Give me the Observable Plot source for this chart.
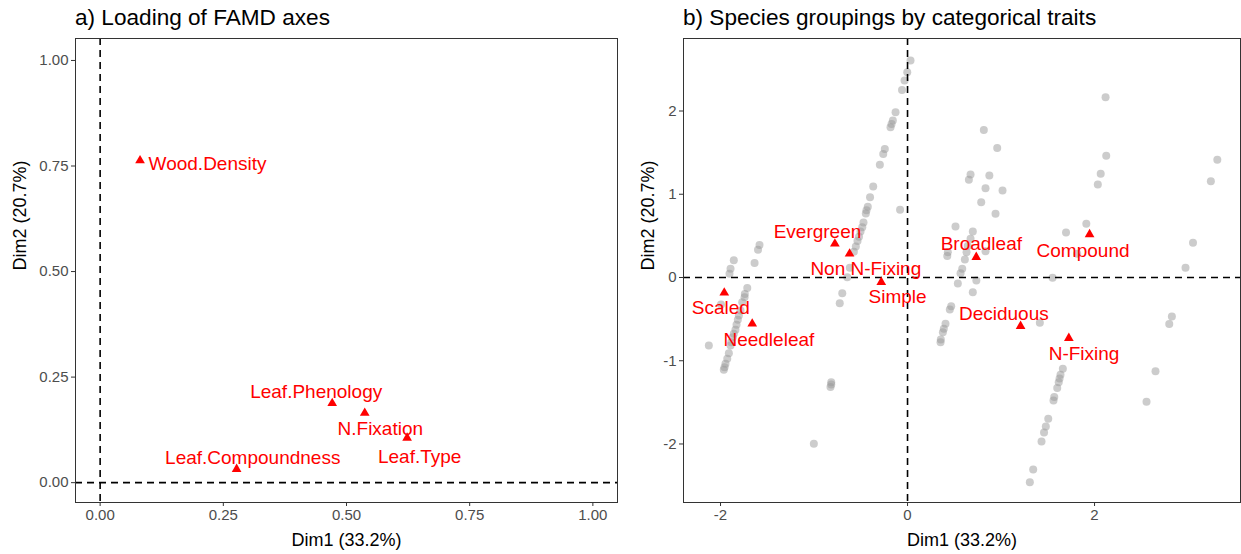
<!DOCTYPE html>
<html>
<head>
<meta charset="utf-8">
<script src="https://cdn.jsdelivr.net/npm/d3@7"></script>
<script src="https://cdn.jsdelivr.net/npm/@observablehq/plot@0.6"></script>
<style>
  html, body { margin: 0; padding: 0; background: #fff; }
  body { width: 1241px; height: 554px; position: relative; overflow: hidden;
         font-family: "Liberation Sans", Arial, Helvetica, sans-serif; }
  .title { position: absolute; top: 4px; font-size: 22.6px; line-height: 28px; color: #000; white-space: nowrap; }
  .panel { position: absolute; top: 30px; }
</style>
</head>
<body>
<div class="title" style="left:75px">a) Loading of FAMD axes</div>
<div class="title" style="left:683px">b) Species groupings by categorical traits</div>
<div class="panel" id="pa" style="left:0px"></div>
<div class="panel" id="pb" style="left:625px"></div>
<script>
// ---------- Panel a: loadings of FAMD axes ----------
const varNames = ["Wood.Density", "Leaf.Phenology", "N.Fixation", "Leaf.Type", "Leaf.Compoundness"];
const varDim1  = [0.081, 0.471, 0.537, 0.623, 0.277];
const varDim2  = [0.763, 0.188, 0.165, 0.106, 0.032];
// repelled label positions (data units)
const varLabelX = [0.218, 0.4385, 0.5686, 0.6485, 0.3097];
const varLabelY = [0.755, 0.214, 0.127, 0.0616, 0.0592];
const loadTicks = [0, 0.25, 0.5, 0.75, 1];

// ---------- Panel b: categories ----------
const catNames = ["Evergreen", "Non N-Fixing", "Simple", "Scaled", "Needleleaf", "Broadleaf", "Compound", "Deciduous", "N-Fixing"];
const catDim1  = [-0.777, -0.620, -0.281, -1.960, -1.661, 0.735, 1.947, 1.209, 1.725];
const catDim2  = [0.405, 0.285, -0.056, -0.184, -0.556, 0.244, 0.517, -0.585, -0.729];
const catLabelX = [-0.963, -0.446, -0.107, -1.997, -1.483, 0.789, 1.877, 1.030, 1.888];
const catLabelY = [0.543, 0.104, -0.236, -0.369, -0.745, 0.404, 0.315, -0.436, -0.917];
const indTicksX = [-2, 0, 2];
const indTicksY = [-2, -1, 0, 1, 2];

const xTitle = "Dim1 (33.2%)";
const yTitle = "Dim2 (20.7%)";

// ---------- Panel b: species (individuals) ----------
const spDim1 = [
  0.032, -0.003, -0.032, -0.059, -0.128, -0.157, -0.171, -0.182, -0.243, -0.260, -0.296,
  -0.367, -0.401, -0.425, -0.439, -0.446, -0.080, -0.471, -0.484, -0.503, -0.519, -0.535,
  -0.553, -0.574, -0.617, -0.645, -0.698, -0.725, -0.816, -0.816, -0.824, -1.002,
  -1.583, -1.599, -1.636, -1.858, -1.893, -1.904, -1.714, -1.740, -1.743, -1.768, -1.995,
  -1.786, -1.804, -1.815, -1.829, -1.840, -1.858, -1.868, -1.886, -1.893, -2.125, -1.911,
  -1.928, -1.947, -1.957, -1.965,
  0.816, 0.959, 0.674, 0.656, 0.875, 0.834, 1.016, 0.788, 0.941, 0.513, 0.698, 0.674,
  0.644, 0.631, 0.431, 0.425, 0.834, 0.613, 0.585, 0.567, 0.736, 0.538, 0.698, 0.467,
  0.452, 0.406, 0.388, 0.378, 0.356, 0.353,
  2.118, 2.125, 3.313, 2.066, 2.035, 3.244, 1.912, 1.695, 3.053, 1.815, 2.973, 1.551,
  1.415, 2.827, 2.799, 2.652, 2.556, 1.661, 1.636, 1.626, 1.617, 1.601, 1.569, 1.561,
  1.505, 1.479, 1.460, 1.433, 1.344, 1.308
];
const spDim2 = [
  2.606, 2.465, 2.365, 2.253, 1.984, 1.885, 1.845, 1.804, 1.545, 1.485, 1.353,
  1.092, 0.964, 0.849, 0.808, 0.768, 0.813, 0.660, 0.604, 0.552, 0.489, 0.438,
  0.372, 0.310, 0.116, 0.004, -0.188, -0.309, -1.257, -1.285, -1.315, -1.996,
  0.390, 0.334, 0.174, 0.208, 0.104, 0.044, -0.126, -0.198, -0.237, -0.297, -0.324,
  -0.396, -0.456, -0.508, -0.568, -0.628, -0.676, -0.717, -0.777, -0.817, -0.817, -0.909,
  -0.976, -1.036, -1.077, -1.108,
  1.773, 1.557, 1.236, 1.173, 1.225, 1.072, 1.044, 0.904, 0.765, 0.612, 0.552, 0.465,
  0.378, 0.304, 0.304, 0.258, 0.315, 0.216, 0.104, 0.052, -0.036, -0.072, -0.176, -0.345,
  -0.384, -0.556, -0.616, -0.657, -0.744, -0.777,
  2.166, 1.461, 1.414, 1.245, 1.117, 1.157, 0.646, 0.541, 0.417, 0.285, 0.116, -0.002,
  -0.544, -0.468, -0.558, -1.125, -1.493, -1.095, -1.167, -1.213, -1.257, -1.327, -1.437, -1.477,
  -1.696, -1.789, -1.863, -1.969, -2.308, -2.459
];

const FONT = '"Liberation Sans", Arial, Helvetica, sans-serif';
const RED = "#ff0000";

const vars = varNames.map((n, i) => ({name: n, x: varDim1[i], y: varDim2[i], lx: varLabelX[i], ly: varLabelY[i]}));
const cats = catNames.map((n, i) => ({name: n, x: catDim1[i], y: catDim2[i], lx: catLabelX[i], ly: catLabelY[i]}));
const species = spDim1.map((x, i) => ({x, y: spDim2[i]}));

function axes(xTicks, yTicks, fmt, yTitleOffset) {
  return [
    Plot.axisX({ticks: xTicks, tickFormat: fmt, tickSize: 4, tickPadding: 3, fontSize: 15, color: "#4d4d4d",
      stroke: "#333", label: null}),
    Plot.axisY({ticks: yTicks, tickFormat: fmt, tickSize: 4, tickPadding: 3, fontSize: 15, color: "#4d4d4d",
      stroke: "#333", label: null}),
    Plot.text([xTitle], {frameAnchor: "bottom", dy: 38, text: d => d, fontSize: 18, fill: "black",
      lineAnchor: "middle", fontFamily: FONT}),
    Plot.text([yTitle], {frameAnchor: "left", dx: -yTitleOffset, rotate: -90, text: d => d, fontSize: 18,
      fill: "black", lineAnchor: "middle", fontFamily: FONT})
  ];
}

const plotA = Plot.plot({
  width: 625, height: 524,
  marginLeft: 75, marginRight: 8, marginTop: 8, marginBottom: 52,
  style: {fontFamily: FONT, background: "white", overflow: "visible"},
  x: {domain: [-0.05, 1.05]},
  y: {domain: [-0.047, 1.052]},
  marks: [
    Plot.ruleX([0], {stroke: "black", strokeWidth: 1.6, strokeDasharray: "7,5"}),
    Plot.ruleY([0], {stroke: "black", strokeWidth: 1.6, strokeDasharray: "7,5"}),
    Plot.dot(vars, {x: "x", y: "y", symbol: "triangle", r: 3.6, fill: RED, stroke: "none"}),
    Plot.text(vars, {x: "lx", y: "ly", text: "name", fill: RED, fontSize: 19, fontFamily: FONT}),
    Plot.frame({stroke: "#333", strokeWidth: 1}),
    ...axes(loadTicks, loadTicks, d3.format(".2f"), 55)
  ]
});
document.getElementById("pa").appendChild(plotA);

const plotB = Plot.plot({
  width: 616, height: 524,
  marginLeft: 58, marginRight: 1, marginTop: 8, marginBottom: 52,
  style: {fontFamily: FONT, background: "white", overflow: "visible"},
  x: {domain: [-2.396, 3.561]},
  y: {domain: [-2.703, 2.871]},
  marks: [
    Plot.dot(species, {x: "x", y: "y", r: 4, fill: "#999", fillOpacity: 0.5, stroke: "none"}),
    Plot.ruleX([0], {stroke: "black", strokeWidth: 1.6, strokeDasharray: "7,5"}),
    Plot.ruleY([0], {stroke: "black", strokeWidth: 1.6, strokeDasharray: "7,5"}),
    Plot.dot(cats, {x: "x", y: "y", symbol: "triangle", r: 3.6, fill: RED, stroke: "none"}),
    Plot.text(cats, {x: "lx", y: "ly", text: "name", fill: RED, fontSize: 19, fontFamily: FONT}),
    Plot.frame({stroke: "#333", strokeWidth: 1}),
    ...axes(indTicksX, indTicksY, d => String(d), 35)
  ]
});
document.getElementById("pb").appendChild(plotB);
</script>
</body>
</html>
